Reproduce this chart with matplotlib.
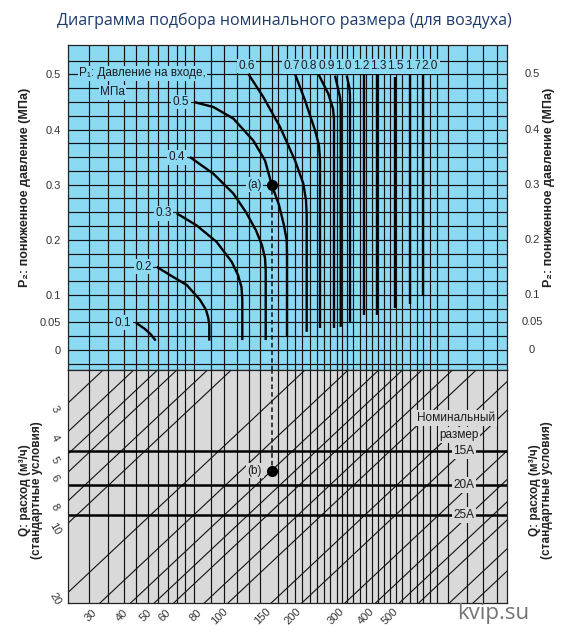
import numpy as np
import matplotlib.pyplot as plt
from matplotlib.transforms import blended_transform_factory

plt.rcParams['font.family'] = ['Liberation Sans', 'DejaVu Sans']

BLUE = '#8cd9f3'
GREY = '#d9d9d9'
INK = '#111111'

# общая горизонтальная шкала обоих полей (условные единицы 0..439)
grid_x = [21, 40, 56, 68, 80, 90, 100, 109, 117, 126, 143, 156, 169, 181, 192,
          210, 219, 227, 234, 242, 249, 256, 262, 269, 274, 279, 285, 292, 298,
          304, 310, 316, 322, 328, 334, 342, 349, 355, 362, 369, 380, 399, 415, 429]
# горизонтальная сетка верхнего поля, P2 (МПа)
grid_p2 = [-0.025, 0.0, 0.025, 0.05, 0.075, 0.1, 0.125, 0.15, 0.175, 0.2, 0.225,
           0.25, 0.275, 0.3, 0.325, 0.35, 0.375, 0.4, 0.425, 0.45, 0.475, 0.5, 0.525]

p2_ticks = [0, 0.05, 0.1, 0.2, 0.3, 0.4, 0.5]
p2_labels = ['0', '0.05', '0.1', '0.2', '0.3', '0.4', '0.5']

# кривые P1: давление на входе
p1_names = ['0.1', '0.2', '0.3', '0.4', '0.5', '0.6', '0.7', '0.8', '0.9',
            '1.0', '1.2', '1.3', '1.5', '1.7', '2.0']
p1_x = [
    [68, 77, 83, 87.7],
    [88.7, 102, 118.7, 132, 138, 140.3, 141.3, 141.3],
    [108.7, 128.7, 148.7, 163.7, 170, 173.5, 174.3, 174.3],
    [122, 145.3, 165.3, 178, 188, 194, 197, 197.7, 197.7],
    [126, 145.3, 165.3, 185.3, 197, 203.7, 211, 216, 218.7, 219, 219],
    [180.3, 195.3, 212, 227, 235.3, 238, 238.7, 238.7],
    [227, 237, 247, 251, 252, 252],
    [250.3, 260.3, 265, 266, 266],
    [267, 272, 272.7, 272.7],
    [278.7, 281.3, 282, 282],
    [296.3, 296.3],
    [308.7, 308.7],
    [327, 327],
    [342, 342],
    [354.7, 354.7],
]
p1_p2 = [
    [0.0495, 0.038, 0.028, 0.017],
    [0.151, 0.136, 0.118, 0.091, 0.073, 0.058, 0.045, 0.017],
    [0.248, 0.226, 0.196, 0.160, 0.136, 0.114, 0.091, 0.018],
    [0.350, 0.320, 0.284, 0.250, 0.217, 0.190, 0.167, 0.145, 0.018],
    [0.450, 0.441, 0.420, 0.380, 0.344, 0.300, 0.263, 0.226, 0.199, 0.172, 0.024],
    [0.501, 0.459, 0.405, 0.344, 0.302, 0.272, 0.245, 0.033],
    [0.501, 0.453, 0.399, 0.371, 0.344, 0.040],
    [0.501, 0.465, 0.438, 0.420, 0.040],
    [0.498, 0.459, 0.444, 0.042],
    [0.498, 0.477, 0.462, 0.051],
    [0.501, 0.063],
    [0.501, 0.063],
    [0.495, 0.077],
    [0.501, 0.083],
    [0.501, 0.098],
]

# нижнее поле: диагонали расхода Q (м3/ч)
q_lines = [3, 4, 5, 6, 8, 10, 20, 30, 40, 50, 60, 80, 100, 150, 200, 300,
           400, 500, 600, 800, 1000]
q_left = [3, 4, 5, 6, 8, 10, 20]
q_bottom = [30, 40, 50, 60, 80, 100, 150, 200, 300, 400, 500]
q_decade = 245          # единиц шкалы на декаду вдоль нижнего края

sizes = ['15A', '20A', '25A']
size_rows = [0.686, 0.834, 0.964]   # положение в единицах lg Q (левый край)

point_a = (203.7, 0.3)
q_point_b = 40

W, H = 569, 634
fig = plt.figure(figsize=(W / 100, H / 100), dpi=100)


def box(x0, y0, x1, y1):
    return [x0 / W, 1 - y1 / H, (x1 - x0) / W, (y1 - y0) / H]


ax = fig.add_axes(box(68, 45, 507, 370))
bx = fig.add_axes(box(68, 370, 507, 603))

# ---------- верхнее поле ----------
ax.set_facecolor(BLUE)
ax.set_xlim(0, 439)
ax.set_ylim(-0.0363, 0.5535)
ax.vlines(grid_x, -0.05, 0.6, colors=INK, lw=0.85, zorder=1)
ax.hlines(grid_p2, 0, 439, colors=INK, lw=0.85, zorder=1)
for xs, ps in zip(p1_x, p1_p2):
    ax.plot(xs, ps, color='black', lw=1.7, solid_capstyle='butt', zorder=3)

lab_kw = dict(fontsize=8.5, color='#1a1a1a', zorder=6,
              bbox=dict(boxstyle='square,pad=0.12', fc=BLUE, ec='none'))
for i, name in enumerate(p1_names):
    x0, p0 = p1_x[i][0], p1_p2[i][0]
    if i < 5:
        ax.annotate(name, (x0, p0), xytext=(-13, 0), textcoords='offset pixels',
                    ha='center', va='center', **lab_kw)
    elif i == 5:
        ax.annotate(name, (x0, p0), xytext=(-1.5, 8), textcoords='offset pixels',
                    ha='center', va='center', **lab_kw)
    else:
        ax.text(223.7 + (i - 6) * 17.3, 0.515, name, ha='center', va='center', **lab_kw)

ax.text(11, 0.502, 'P₁: Давление на входе,', ha='left', va='center', **lab_kw)
ax.text(32, 0.468, 'МПа', ha='left', va='center', **lab_kw)

xa, pa = point_a
ax.vlines(xa, pa, 0.6, colors=INK, lw=0.85, zorder=2)
ax.vlines(xa, -0.05, pa, colors=INK, lw=1.1, linestyles=(0, (3, 2)), zorder=2)
ax.plot(xa, pa, 'o', color='black', ms=7, zorder=7)
ax.annotate('(a)', (xa, pa), xytext=(-17, 0), textcoords='offset pixels',
            ha='center', va='center', **lab_kw)

ax.set_xticks([])
ax.set_yticks(p2_ticks, p2_labels)
ax.tick_params(length=0, pad=5, labelsize=8, labelcolor='#333333')
tr = blended_transform_factory(ax.transAxes, ax.transData)
for p, lab in zip(p2_ticks, p2_labels):
    ax.text(1.057, p, lab, transform=tr, ha='center', va='center',
            fontsize=8, color='#333333')

# ---------- нижнее поле ----------
bx.set_facecolor(GREY)
bx.set_xlim(0, 439)
y_top = np.log10(3) - 33 / 230
y_bot = np.log10(3) + 200 / 230
bx.set_ylim(y_bot, y_top)
bx.vlines(grid_x, y_top - 1, y_bot + 1, colors=INK, lw=0.85, zorder=1)
xx = np.array([0, 439])
for q in q_lines:
    bx.plot(xx, np.log10(q) - xx / q_decade, color=INK, lw=0.8, zorder=1)
bx.hlines(size_rows, 0, 439, colors='black', lw=1.8, zorder=2)

gkw = dict(fontsize=8.5, color='#1a1a1a', zorder=6,
           bbox=dict(boxstyle='square,pad=0.15', fc=GREY, ec='none'))
for name, r in zip(sizes, size_rows):
    bx.text(396, r, name, ha='center', va='center', **gkw)
bx.text(388, 0.542, 'Номинальный', ha='center', va='center', **gkw)
bx.text(391, 0.616, 'размер', ha='center', va='center', **gkw)

yb = np.log10(q_point_b) - xa / q_decade
bx.vlines(xa, y_top - 1, yb, colors=INK, lw=1.1, linestyles=(0, (3, 2)), zorder=2)
bx.plot(xa, yb, 'o', color='black', ms=7, zorder=7)
bx.annotate('(b)', (xa, yb), xytext=(-17, 0), textcoords='offset pixels',
            ha='center', va='center', **gkw)

bx.set_xticks([])
bx.set_yticks([])
for q in q_left:
    bx.annotate(str(q), (0, np.log10(q)), xytext=(-13, -6), textcoords='offset pixels',
                ha='center', va='center', rotation=-60, fontsize=8,
                color='#333333', annotation_clip=False)
for q in q_bottom:
    xc = q_decade * (np.log10(q) - y_bot)
    bx.annotate(str(q), (xc, y_bot), xytext=(-9, -13), textcoords='offset pixels',
                ha='center', va='center', rotation=45, fontsize=8,
                color='#333333', annotation_clip=False)

for a in (ax, bx):
    for s in a.spines.values():
        s.set_color('#222222')
        s.set_linewidth(0.9)

# ---------- подписи ----------
p2_title = 'P₂: пониженное давление (МПа)'
q_title = 'Q: расход (м³/ч)\n(стандартные условия)'
fig.text(25 / W, 1 - 187 / H, p2_title, rotation=90, ha='center', va='center',
         fontsize=9, fontweight='bold', color='#222222')
fig.text(549 / W, 1 - 187 / H, p2_title, rotation=90, ha='center', va='center',
         fontsize=9, fontweight='bold', color='#222222')
fig.text(31 / W, 1 - 490 / H, q_title, rotation=90, ha='center', va='center',
         fontsize=8.5, fontweight='bold', color='#222222', linespacing=1.0)
fig.text(541 / W, 1 - 490 / H, q_title, rotation=90, ha='center', va='center',
         fontsize=8.5, fontweight='bold', color='#222222', linespacing=1.0)

fig.text(0.5, 1 - 21 / H, 'Диаграмма подбора номинального размера (для воздуха)',
         ha='center', va='center', fontsize=11.5, color='#1d3a6c',
         family=['Open Sans', 'DejaVu Sans'])
fig.text(493 / W, 1 - 614 / H, 'kvip.su', ha='center', va='center', fontsize=16,
         color='#747474', family=['Open Sans', 'DejaVu Sans'])

fig.savefig('out.png', dpi=100, facecolor='white')
